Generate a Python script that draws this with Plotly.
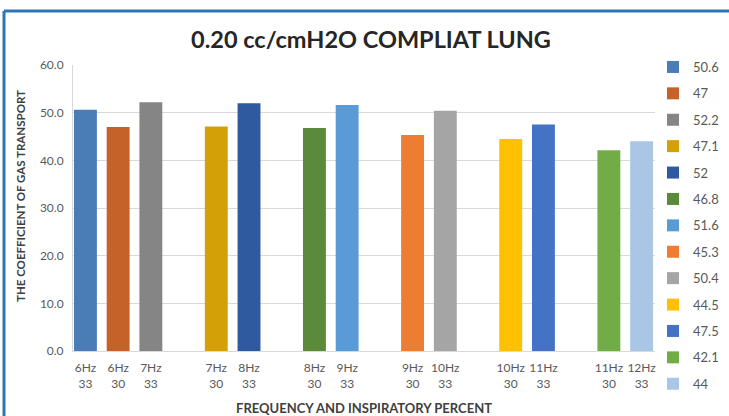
import plotly.graph_objects as go

# Frequency / inspiratory-percent settings, with blank spacer slots between groups
categories = [
    "6Hz<br>33", "6Hz<br>30", "7Hz<br>33", " ",
    "7Hz<br>30", "8Hz<br>33", "  ",
    "8Hz<br>30", "9Hz<br>33", "   ",
    "9Hz<br>30", "10Hz<br>33", "    ",
    "10Hz<br>30", "11Hz<br>33", "     ",
    "11Hz<br>30", "12Hz<br>33",
]
bar_categories = [
    "6Hz<br>33", "6Hz<br>30", "7Hz<br>33", "7Hz<br>30", "8Hz<br>33",
    "8Hz<br>30", "9Hz<br>33", "9Hz<br>30", "10Hz<br>33", "10Hz<br>30",
    "11Hz<br>33", "11Hz<br>30", "12Hz<br>33",
]
values = [50.6, 47, 52.2, 47.1, 52, 46.8, 51.6, 45.3, 50.4, 44.5, 47.5, 42.1, 44]
colors = [
    "#4A7CB6", "#C5622A", "#858585", "#D3A005", "#2F5A9F", "#5A8A3A",
    "#5B9BD5", "#ED7D31", "#A5A5A5", "#FFC000", "#4472C4", "#70AD47", "#A9C6E6",
]

FONT = "Lato, Open Sans, sans-serif"

fig = go.Figure()
for i, (cat, val, col) in enumerate(zip(bar_categories, values, colors)):
    fig.add_trace(go.Bar(
        x=[cat], y=[val], name=f"{val:g}",
        marker=dict(color=col, line=dict(width=0)),
        width=0.7, legendgroup=f"g{i}",
    ))

W, H = 729, 416
L, R, T, B = 73, 74, 65, 65
pw, ph = W - L - R, H - T - B

def px_x(px):
    return (px - L) / pw

def px_y(py):
    return (H - B - py) / ph

fig.update_layout(
    width=W, height=H,
    margin=dict(l=L, r=R, t=T, b=B, autoexpand=False),
    barmode="overlay",
    paper_bgcolor="white", plot_bgcolor="white",
    font=dict(family=FONT, color="#595959"),
    title=dict(
        text="0.20 cc/cmH2O COMPLIAT LUNG",
        x=371 / W, xref="container", xanchor="center",
        y=1 - 40 / H, yref="container", yanchor="middle",
        font=dict(size=23.5, color="#262626", family=FONT, weight="bold"),
    ),
    xaxis=dict(
        type="category", categoryorder="array", categoryarray=categories,
        range=[-0.38, 17.41], automargin=False,
        showgrid=False, showline=True, linecolor="#D9D9D9", linewidth=1,
        ticks="", ticklabelstandoff=6,
        tickfont=dict(size=12, color="#595959"),
        title=dict(text="FREQUENCY AND INSPIRATORY PERCENT",
                   font=dict(size=13, color="#404040", weight="bold"),
                   standoff=13),
    ),
    yaxis=dict(
        range=[0, 60], tickvals=[0, 10, 20, 30, 40, 50, 60],
        tickformat=".1f", automargin=False,
        showgrid=True, gridcolor="#D9D9D9", gridwidth=1,
        showline=True, linecolor="#D9D9D9", linewidth=1,
        zeroline=False, ticks="", ticklabelstandoff=6,
        tickfont=dict(size=12, color="#595959"),
    ),
    legend=dict(
        xref="container", yref="container",
        x=653 / W, xanchor="left", y=1 - 52 / H, yanchor="top",
        font=dict(size=13, color="#595959"),
        tracegroupgap=6.5, itemwidth=30, maxheight=400,
        bgcolor="rgba(0,0,0,0)",
    ),
    showlegend=True,
)

# Vertical y-axis title
fig.add_annotation(
    text="THE COEFFICIENT OF GAS TRANSPORT",
    xref="paper", yref="paper", x=px_x(20), y=px_y(196),
    xanchor="center", yanchor="middle", textangle=-90, showarrow=False,
    font=dict(size=11.5, color="#404040", family=FONT, weight="bold"),
)

# Blue chart frame: top and left edges
frame = dict(color="#2E75B6", width=3)
fig.add_shape(type="line", xref="paper", yref="paper",
              x0=px_x(4), x1=px_x(W), y0=px_y(11), y1=px_y(11), line=frame)
fig.add_shape(type="line", xref="paper", yref="paper",
              x0=px_x(4), x1=px_x(4), y0=px_y(11), y1=px_y(H), line=frame)

fig.write_html("out.html")
